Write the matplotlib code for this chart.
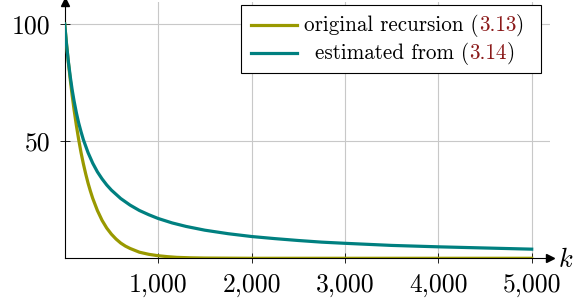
import matplotlib
matplotlib.use("Agg")
import matplotlib.pyplot as plt
from matplotlib.patches import Rectangle
from matplotlib.lines import Line2D

plt.rcParams["font.family"] = "cmr10"
plt.rcParams["mathtext.fontset"] = "cm"
plt.rcParams["axes.formatter.use_mathtext"] = True

# values
k_orig = [0, 20, 40, 60, 80, 100, 125, 150, 175, 200, 225, 250, 275, 300,
          350, 400, 450, 500, 550, 600, 650, 700, 800, 900, 1000, 1100, 1200,
          1350, 1500, 1750, 2000, 3000, 4000, 5000]
orig_rec = [100, 91.3, 83.4, 76.1, 69.5, 63.5, 56.7, 50.6, 45.1, 40.3, 36.0,
            32.1, 28.7, 25.6, 20.4, 16.2, 12.9, 10.3, 8.2, 6.5, 5.2, 4.2, 2.6,
            1.7, 1.1, 0.7, 0.4, 0.2, 0.1, 0.05, 0.0, 0.0, 0.0, 0.0]

k_est = [0, 20, 40, 60, 80, 100, 125, 150, 175, 200, 250, 300, 350, 400, 450,
         500, 600, 700, 800, 900, 1000, 1150, 1300, 1500, 1750, 2000, 2250,
         2500, 2750, 3000, 3500, 4000, 4500, 5000]
est_from = [100, 91.1, 83.7, 77.4, 71.9, 67.2, 62.1, 57.7, 54.0, 50.6, 45.1,
            40.6, 36.9, 33.9, 31.3, 29.1, 25.5, 22.7, 20.4, 18.6, 17.0, 15.1,
            13.6, 12.0, 10.5, 9.3, 8.4, 7.6, 6.9, 6.4, 5.5, 4.9, 4.4, 3.9]

x_ticks = [1000, 2000, 3000, 4000, 5000]
x_tick_labels = ["1,000", "2,000", "3,000", "4,000", "5,000"]
y_ticks = [50, 100]
y_tick_labels = ["50", "100"]

OLIVE = "#999900"
TEAL = "#008080"
REF_RED = "#8b1a1a"

W, H = 573, 303
fig = plt.figure(figsize=(W / 100, H / 100), dpi=100)

x0, y0 = 64.7, 258.3
x1, y1 = 550.0, 2.0
ax = fig.add_axes([x0 / W, (H - y0) / H, (x1 - x0) / W, (y0 - y1) / H])
ax.set_xlim(0, (x1 - x0) / 93.4 * 1000)
ax.set_ylim(0, (y0 - y1) / 2.343)

ax.plot(k_orig, orig_rec, color=OLIVE, lw=2.3, solid_joinstyle="round", zorder=3)
ax.plot(k_est, est_from, color=TEAL, lw=2.3, solid_joinstyle="round", zorder=3)

ax.set_xticks(x_ticks)
ax.set_xticklabels(x_tick_labels)
ax.set_yticks(y_ticks)
ax.set_yticklabels(y_tick_labels)
ax.tick_params(direction="inout", length=7, width=0.6, labelsize=18.5)
ax.tick_params(axis="x", pad=7)
ax.tick_params(axis="y", pad=7)
ax.grid(True, color="#c8c8c8", lw=0.8)
ax.set_axisbelow(True)

for side in ["top", "right"]:
    ax.spines[side].set_visible(False)
for side in ["left", "bottom"]:
    ax.spines[side].set_linewidth(0.8)

# arrow heads on the axis lines
ax.plot(1, 0, ">k", ms=6, transform=ax.transAxes, clip_on=False)
ax.plot(0, 1, "^k", ms=6, transform=ax.transAxes, clip_on=False)

fig.text(566 / W, (H - 260) / H, "$k$", fontsize=19, ha="center", va="center")

# legend box built by hand so the references can be coloured
fig.patches.append(Rectangle((241 / W, (H - 73) / H), 300 / W, 68 / H,
                             transform=fig.transFigure, fill=True, fc="white",
                             ec="black", lw=0.8, zorder=5))
rows = [
    (OLIVE, 25, 304, "original recursion (", "3.13"),
    (TEAL, 53, 315, "estimated from (", "3.14"),
]
fig.canvas.draw()
renderer = fig.canvas.get_renderer()
for color, y, xs, txt, ref in rows:
    fig.lines.append(Line2D([250.7 / W, 296.7 / W], [(H - y) / H] * 2,
                            transform=fig.transFigure, color=color, lw=2.3,
                            zorder=6))
    xp = xs
    for piece, c in [(txt, "black"), (ref, REF_RED), (")", "black")]:
        t = fig.text(xp / W, (H - y - 6) / H, piece, fontsize=15.2,
                     color=c, ha="left", va="baseline", zorder=6)
        xp = t.get_window_extent(renderer).x1

fig.savefig("out.png", dpi=100)
